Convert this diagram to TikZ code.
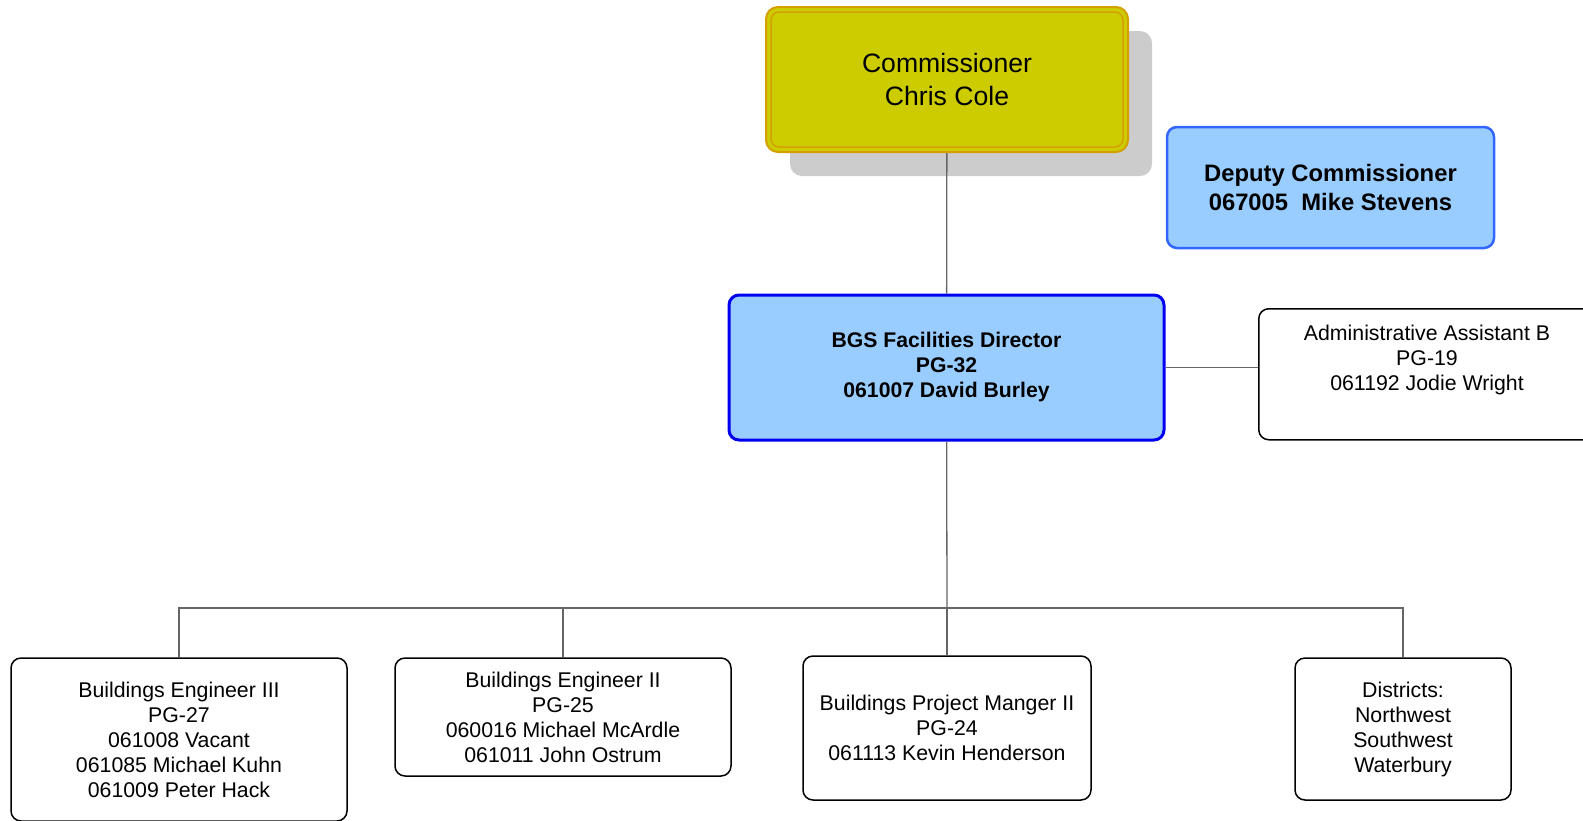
\documentclass[tikz,border=0pt]{standalone}
\usepackage{fontspec}
\setmainfont{Liberation Sans}
\usetikzlibrary{shadows}
\definecolor{commfill}{HTML}{CCCC00}
\definecolor{commline}{HTML}{D4A000}
\definecolor{bluefill}{HTML}{99CCFF}
\definecolor{deputyline}{HTML}{3366FF}
\definecolor{dirline}{HTML}{0000EE}
\definecolor{connline}{HTML}{666666}
\begin{document}
\begin{tikzpicture}[x=1pt,y=-1pt,
    box/.style={draw=black, line width=1.5pt, rounded corners=10pt, align=center,
      inner sep=0pt, font=\fontsize{21.3}{25}\selectfont},
    conn/.style={draw=connline, line width=1.3pt}]
  \useasboundingbox (0,0) rectangle (1583,820);
  \draw
    (947,79.5) node[box, draw=commline, fill=commfill, line width=2pt, rounded corners=12pt,
      minimum width=362, minimum height=145, font=\fontsize{26.6}{33}\selectfont,
      drop shadow={shadow xshift=24pt, shadow yshift=-24pt, fill=black!20, opacity=1}]
      (comm){Commissioner\\Chris Cole}
    (1330.5,187.5) node[box, draw=deputyline, fill=bluefill, line width=2.5pt,
      minimum width=327, minimum height=121, font=\fontsize{23.8}{29}\selectfont\bfseries]
      (deputy){Deputy Commissioner\\067005\ \ Mike Stevens}
    (946.5,367.5) node[box, draw=dirline, fill=bluefill, line width=3pt,
      minimum width=435, minimum height=145, font=\fontsize{21.2}{25}\selectfont\bfseries]
      (dir){BGS Facilities Director\\PG-32\\061007 David Burley}
    (1258,308) node[box, anchor=north west, minimum width=342, minimum height=131]
      (admin){}
    (1427,360) node[align=center, inner sep=0pt, font=\fontsize{21.3}{25}\selectfont]
      (admintext){Administrative Assistant B\\PG-19\\061192 Jodie Wright}
    (179,739.5) node[box, minimum width=336, minimum height=163]
      (eng3){Buildings Engineer III\\PG-27\\061008 Vacant\\061085 Michael Kuhn\\061009 Peter Hack}
    (563,717) node[box, minimum width=336, minimum height=118]
      (eng2){Buildings Engineer II\\PG-25\\060016 Michael McArdle\\061011 John Ostrum}
    (947,728) node[box, minimum width=288, minimum height=144]
      (projmgr){Buildings Project Manger II\\PG-24\\061113 Kevin Henderson}
    (1403,729) node[box, minimum width=216, minimum height=142]
      (districts){Districts:\\Northwest\\Southwest\\Waterbury};
  \draw[commline, line width=1.5pt, rounded corners=8pt]
    ([shift={(6,6)}]comm.north west) rectangle ([shift={(-6,-6)}]comm.south east);
  \coordinate (bus) at (947,608);
  \begin{scope}[conn]
    \draw (comm) -- (dir);
    \draw (dir.east) -- (dir.east -| admin.west);
    \draw (dir) -- (bus);
    \foreach \n in {eng3,eng2,projmgr,districts}
      \draw (bus) -| (\n.north);
  \end{scope}
\end{tikzpicture}
\end{document}
